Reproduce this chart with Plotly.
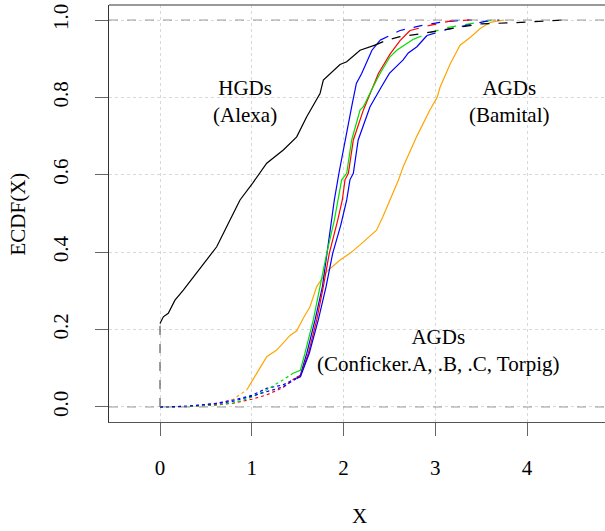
import plotly.graph_objects as go

# ---------------- data ----------------
alexa_x = [0.0, 0.036, 0.09, 0.163, 0.254, 0.436, 0.618, 0.763, 0.872, 1.014, 1.163, 1.344,
           1.49, 1.599, 1.708, 1.744, 1.78, 1.87, 1.962, 2.035, 2.18, 2.343, 2.47, 2.616,
           2.834, 3.05, 3.27, 3.49, 3.85, 4.1, 4.4]
alexa_y = [0.216, 0.233, 0.242, 0.276, 0.302, 0.359, 0.414, 0.483, 0.535, 0.58, 0.63, 0.664,
           0.698, 0.75, 0.793, 0.81, 0.845, 0.865, 0.885, 0.892, 0.922, 0.935, 0.948, 0.957,
           0.964, 0.973, 0.981, 0.99, 0.993, 0.997, 1.0]

blue1_x = [0.0, 0.3, 0.6, 0.8, 1.0, 1.16, 1.34, 1.49, 1.53, 1.60, 1.69, 1.77, 1.82, 1.86,
           1.90, 1.95, 2.016, 2.089, 2.14, 2.198, 2.31, 2.40, 2.616, 2.834, 3.05, 3.27, 3.4]
blue1_y = [0.0, 0.002, 0.009, 0.018, 0.03, 0.048, 0.057, 0.075, 0.082, 0.139, 0.225, 0.311,
           0.397, 0.46, 0.535, 0.604, 0.69, 0.776, 0.836, 0.862, 0.922, 0.948, 0.973, 0.985,
           0.994, 0.999, 1.0]

green_x = [0.0, 0.3, 0.6, 0.8, 1.0, 1.16, 1.34, 1.45, 1.49, 1.53, 1.58, 1.671, 1.744, 1.817,
           1.9, 1.943, 1.98, 2.035, 2.089, 2.18, 2.216, 2.325, 2.398, 2.507, 2.58, 2.76, 2.94,
           3.12, 3.34, 3.6, 3.7]
green_y = [0.0, 0.001, 0.006, 0.01, 0.025, 0.044, 0.07, 0.087, 0.091, 0.095, 0.139, 0.225,
           0.311, 0.397, 0.483, 0.535, 0.587, 0.604, 0.69, 0.767, 0.776, 0.828, 0.862, 0.905,
           0.922, 0.95, 0.967, 0.98, 0.989, 0.999, 1.0]

red_x = [0.0, 0.3, 0.6, 0.8, 1.0, 1.16, 1.34, 1.49, 1.53, 1.617, 1.708, 1.78, 1.845, 1.937,
         1.987, 2.016, 2.053, 2.107, 2.216, 2.38, 2.507, 2.616, 2.725, 2.94, 3.16, 3.38]
red_y = [0.0, 0.001, 0.005, 0.01, 0.02, 0.031, 0.05, 0.078, 0.08, 0.139, 0.225, 0.311, 0.397,
         0.483, 0.535, 0.587, 0.604, 0.69, 0.767, 0.862, 0.912, 0.947, 0.973, 0.986, 0.997, 1.0]

blue2_x = [0.0, 0.3, 0.6, 0.8, 1.0, 1.16, 1.34, 1.49, 1.53, 1.627, 1.725, 1.81, 1.882, 1.97,
           2.035, 2.07, 2.107, 2.16, 2.253, 2.289, 2.42, 2.5, 2.65, 2.706, 2.8, 2.91, 3.12,
           3.34, 3.56, 3.7]
blue2_y = [0.0, 0.002, 0.008, 0.015, 0.028, 0.04, 0.052, 0.074, 0.078, 0.139, 0.225, 0.311,
           0.397, 0.47, 0.535, 0.587, 0.604, 0.69, 0.75, 0.776, 0.83, 0.862, 0.897, 0.915,
           0.931, 0.96, 0.975, 0.986, 0.997, 1.0]

bamital_x = [0.0, 0.3, 0.6, 0.8, 0.945, 0.98, 1.054, 1.163, 1.272, 1.417, 1.49, 1.563, 1.635,
             1.708, 1.817, 1.962, 2.07, 2.18, 2.36, 2.43, 2.507, 2.6, 2.65, 2.8, 2.94, 3.02,
             3.05, 3.16, 3.27, 3.38, 3.49, 3.6, 3.75]
bamital_y = [0.0, 0.001, 0.008, 0.02, 0.044, 0.057, 0.087, 0.13, 0.147, 0.185, 0.197, 0.23,
             0.259, 0.311, 0.35, 0.38, 0.397, 0.419, 0.457, 0.492, 0.535, 0.587, 0.621, 0.70,
             0.767, 0.80, 0.825, 0.885, 0.935, 0.955, 0.978, 0.994, 1.0]

x_ticks = [0, 1, 2, 3, 4]
y_ticks = [0.0, 0.2, 0.4, 0.6, 0.8, 1.0]

# ---------------- style ----------------
X_RANGE = [-0.556, 4.85]
Y_RANGE = [-0.0388, 1.0388]
series = [
    ("Bamital", bamital_x, bamital_y, "orange", (0.044, 1.01)),
    ("Conficker.A", blue1_x, blue1_y, "blue", (0.075, 0.925)),
    ("Conficker.B", red_x, red_y, "red", (0.078, 0.95)),
    ("Conficker.C", green_x, green_y, "#00E000", (0.087, 0.95)),
    ("Torpig", blue2_x, blue2_y, "blue", (0.074, 0.96)),
    ("Alexa", alexa_x, alexa_y, "black", (0.0, 0.935)),
]

FONT = "Liberation Serif, Times New Roman, serif"
fig = go.Figure()


def add_part(xs, ys, color, dash):
    if len(xs) >= 2:
        fig.add_trace(go.Scatter(x=xs, y=ys, mode="lines", showlegend=False, hoverinfo="skip",
                                 line=dict(color=color, width=1.2, dash=dash)))


for name, xs, ys, color, (lo, hi) in series:
    low_idx = [i for i, v in enumerate(ys) if v <= lo]
    high_idx = [i for i, v in enumerate(ys) if v >= hi]
    i0 = low_idx[-1] if low_idx else 0
    i1 = high_idx[0] if high_idx else len(ys) - 1
    add_part(xs[:i0 + 1], ys[:i0 + 1], color, "dot")
    add_part(xs[i0:i1 + 1], ys[i0:i1 + 1], color, "solid")
    add_part(xs[i1:], ys[i1:], color, "dash")

# horizontal reference lines at ECDF 0 and 1
for yv in (y_ticks[0], y_ticks[-1]):
    fig.add_shape(type="line", xref="paper", yref="y", x0=0, x1=1, y0=yv, y1=yv,
                  line=dict(color="#9a9a9a", width=1, dash="dash"))
# jump of the Alexa ECDF at its first value
fig.add_shape(type="line", xref="x", yref="y", x0=alexa_x[0], x1=alexa_x[0], y0=0,
              y1=alexa_y[0], line=dict(color="#666666", width=1.3, dash="dash"))
# top edge of the plot box (the box is open on the right)
fig.add_shape(type="line", xref="paper", yref="paper", x0=0, x1=1, y0=1, y1=1,
              line=dict(color="#777777", width=1.5))

ann = dict(showarrow=False, font=dict(family=FONT, size=21, color="black"),
           xanchor="center", yanchor="middle")
fig.add_annotation(x=0.93, y=0.79, xref="x", yref="y", text="HGDs<br>(Alexa)", **ann)
fig.add_annotation(x=3.8, y=0.79, xref="x", yref="y", text="AGDs<br>(Bamital)", **ann)
fig.add_annotation(x=3.03, y=0.145, xref="x", yref="y",
                   text="AGDs<br>(Conficker.A, .B, .C, Torpig)", **ann)
fig.add_annotation(x=0.506, y=-0.2254, xref="paper", yref="paper", text="X", **ann)
fig.add_annotation(x=-0.1835, y=0.5, xref="paper", yref="paper", text="ECDF(X)",
                   textangle=-90, **ann)

fig.update_layout(
    width=605, height=531,
    margin=dict(l=109, r=0, t=5, b=109),
    paper_bgcolor="white", plot_bgcolor="white",
    font=dict(family=FONT, size=21, color="black"),
    showlegend=False,
)
fig.update_xaxes(range=X_RANGE, tickvals=x_ticks, ticktext=[str(v) for v in x_ticks],
                 ticks="outside", ticklen=13, tickcolor="#666666", tickwidth=1.3,
                 showline=True, linecolor="#555555", linewidth=1.3, mirror=False,
                 showgrid=True, gridcolor="#d8d8d8", griddash="dot", gridwidth=1,
                 zeroline=False, ticklabelstandoff=14)
fig.update_yaxes(range=Y_RANGE, tickvals=y_ticks,
                 ticktext=[f"{v:.1f}" for v in y_ticks], tickangle=-90,
                 ticks="outside", ticklen=13, tickcolor="#666666", tickwidth=1.3,
                 showline=True, linecolor="#333333", linewidth=1.3, mirror=False,
                 showgrid=True, gridcolor="#d8d8d8", griddash="dot", gridwidth=1,
                 zeroline=False, ticklabelstandoff=18)

fig.write_html("out.html", config={"displayModeBar": False},
               post_script="document.body.style.margin='0';"
                           "document.documentElement.style.overflow='hidden';"
                           "document.body.style.overflow='hidden';")
